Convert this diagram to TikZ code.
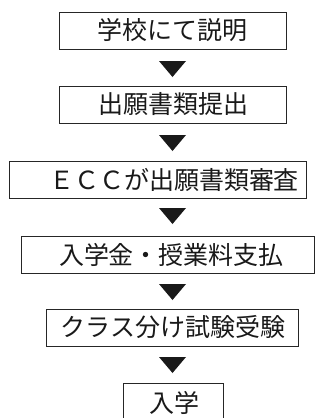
\documentclass[tikz,border=0pt]{standalone}
\usepackage{fontspec}
\newfontfamily\jp{Noto Sans CJK JP}
\begin{document}
\begin{tikzpicture}[x=1pt,y=-1pt,
  box/.style={draw=black!85, line width=0.9pt, inner sep=0pt, minimum height=37pt},
  txt/.style={font=\jp\fontsize{25}{25}\selectfont, inner sep=0pt, text=black!90},
  tri/.style={fill=black!90}]
\useasboundingbox (0,0) rectangle (333,418);
\clip (0,0) rectangle (333,418);
% boxes
\node[box, minimum width=227pt] (b1) at (172.5,30.5) {};
\node[box, minimum width=227pt] (b2) at (172.5,104.5) {};
\node[box, minimum width=297pt] (b3) at (157.5,179.5) {};
\node[box, minimum width=293pt] (b4) at (167.5,254.5) {};
\node[box, minimum width=252pt] (b5) at (172,327.5) {};
\node[box, minimum width=100pt] (b6) at (173,401.5) {};
% texts
\node[txt] (t1) at (172.5,30.5) {学校にて説明};
\node[txt] (t2) at (173,104.5) {出願書類提出};
\node[txt] (t3) at (174,179.5) {ＥＣＣが出願書類審査};
\node[txt] (t4) at (171.5,254.5) {入学金・授業料支払};
\node[txt] (t5) at (173,327.5) {クラス分け試験受験};
\node[txt] (t6) at (174,403) {入学};
% triangles
\fill[tri] (159,61) -- (186,61) -- (172.5,77) -- cycle;
\fill[tri] (159,135) -- (186,135) -- (172.5,151) -- cycle;
\fill[tri] (159,208) -- (186,208) -- (172.5,224) -- cycle;
\fill[tri] (159,284) -- (186,284) -- (172.5,300) -- cycle;
\fill[tri] (159,357) -- (186,357) -- (172.5,373) -- cycle;
\end{tikzpicture}
\end{document}
